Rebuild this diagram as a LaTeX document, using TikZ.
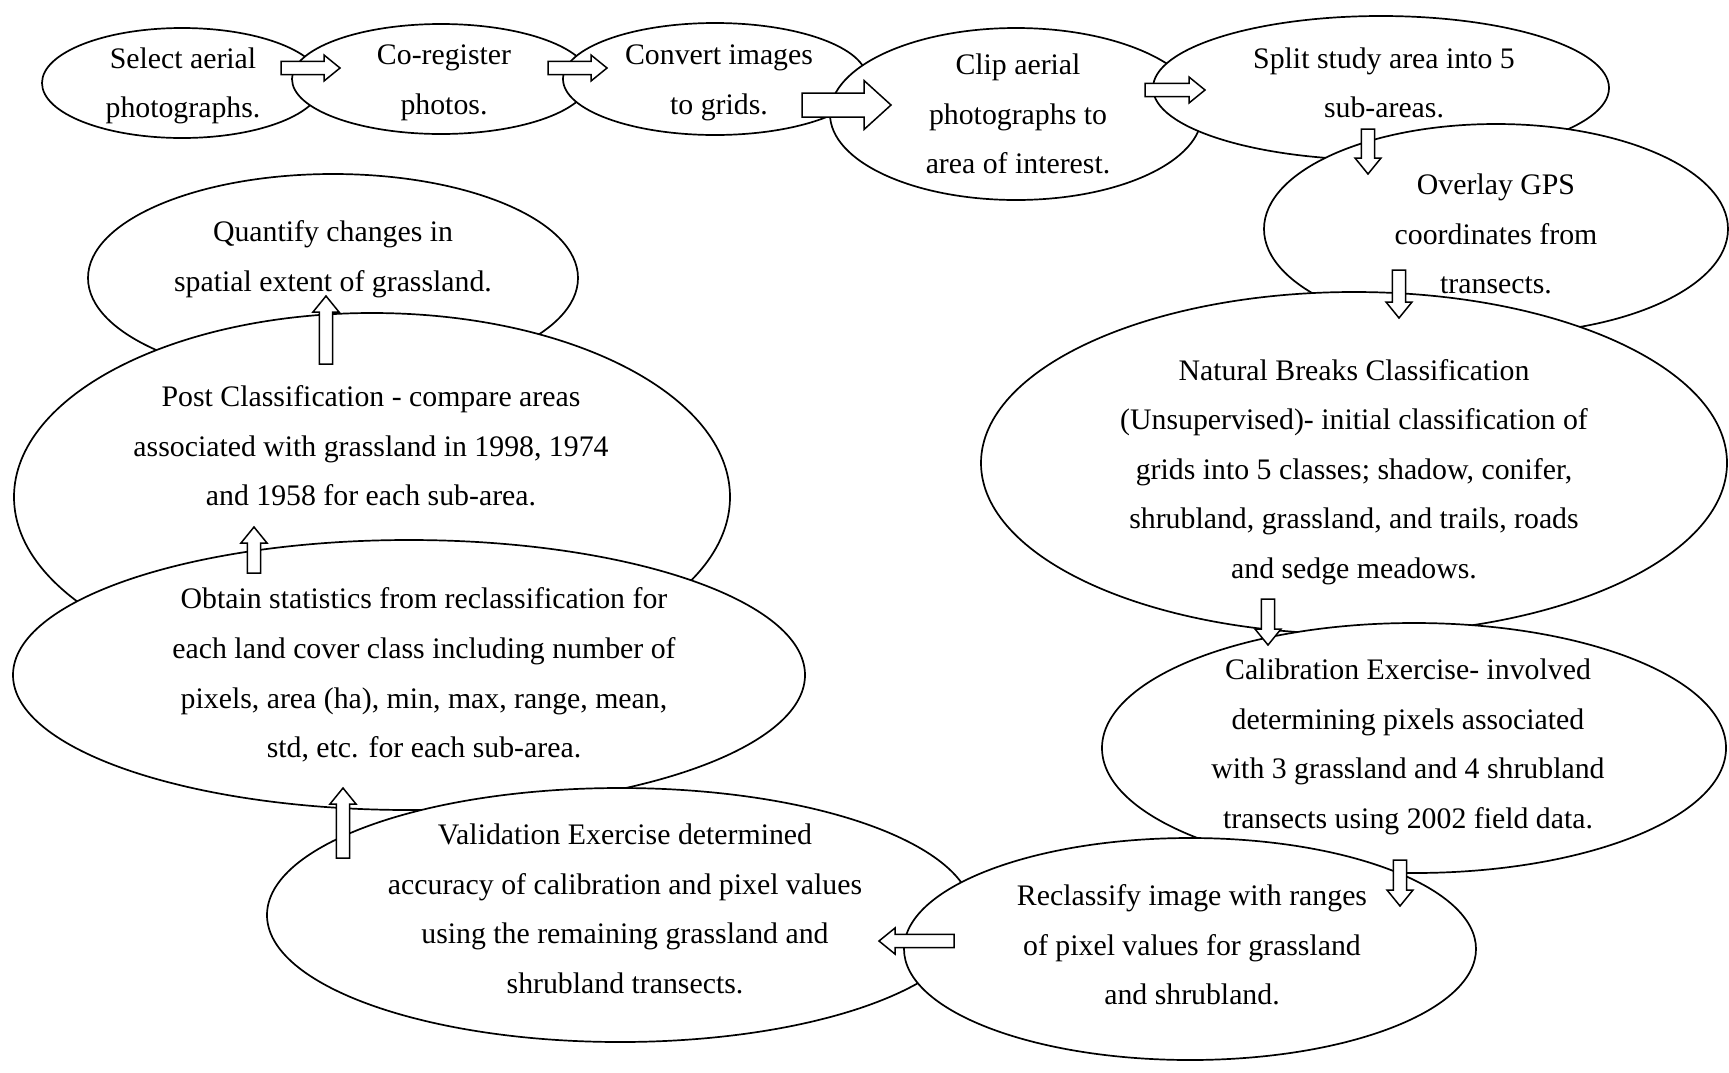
\documentclass[tikz,border=0pt]{standalone}
\usepackage{fontspec}
\setmainfont{Liberation Serif}
\usetikzlibrary{shapes.geometric,calc}
\tikzset{
  stage/.style={ellipse, draw=black, fill=white, line width=1.7pt, inner sep=0pt},
  txt/.style={align=center, inner sep=0pt, font=\fontsize{29.8}{49.6}\selectfont},
  barrowline/.style={draw=black, fill=white, line width=1.5pt, line join=miter}
}
\newcommand{\blockarr}[5]{%
  \coordinate (hb) at ($(#2)!#5!(#1)$);
  \draw[barrowline] ($(#1)!#3!90:(#2)$) -- ($(hb)!#3!90:(#2)$) -- ($(hb)!#4!90:(#2)$)
    -- (#2) -- ($(hb)!#4!-90:(#2)$) -- ($(hb)!#3!-90:(#2)$) -- ($(#1)!#3!-90:(#2)$) -- cycle;}
\begin{document}
\begin{tikzpicture}[x=1pt,y=-1pt]
\useasboundingbox (0,0) rectangle (1729,1072);
% top row
\node[stage, minimum width=280pt, minimum height=110pt] (e1) at (182,83) {};
\node[txt] (t1) at (183,86) {Select aerial\\photographs.};
\node[stage, minimum width=298pt, minimum height=110pt] (e2) at (441,79) {};
\node[txt] (t2) at (444,83) {Co-register\\photos.};
\node[stage, minimum width=304pt, minimum height=112pt] (e3) at (715,79) {};
\node[txt] (t3) at (719,83) {Convert images\\to grids.};
\node[stage, minimum width=372pt, minimum height=172pt] (e4) at (1016,114) {};
\node[txt] (t4) at (1018,114) {Clip aerial\\photographs to\\area of interest.};
\node[stage, minimum width=456pt, minimum height=144pt] (e5) at (1381,88) {};
\node[txt] (t5) at (1384,83) {Split study area into 5\\sub-areas.};
\node[stage, minimum width=464pt, minimum height=210pt] (e6) at (1496,229) {};
\node[txt] (t6) at (1496,234) {Overlay GPS\\coordinates from\\transects.};
\node[stage, minimum width=746pt, minimum height=342pt] (e7) at (1354,463) {};
\node[txt] (t7) at (1354,472) {Natural Breaks Classification\\(Unsupervised)- initial classification of\\grids into 5 classes; shadow, conifer,\\shrubland, grassland, and trails, roads\\and sedge meadows.};
\node[stage, minimum width=624pt, minimum height=250pt] (e8) at (1414,748) {};
\node[txt] (t8) at (1408,747) {Calibration Exercise- involved\\determining pixels associated\\with 3 grassland and 4 shrubland\\transects using 2002 field data.};
% left column
\node[stage, minimum width=490pt, minimum height=208pt] (e13) at (333,278) {};
\node[txt] (t13) at (333,259) {Quantify changes in\\spatial extent of grassland.};
\node[stage, minimum width=716pt, minimum height=368pt] (e12) at (372,497) {};
\node[txt] (t12) at (371,446) {Post Classification - compare areas\\associated with grassland in 1998, 1974\\and 1958 for each sub-area.};
\node[stage, minimum width=792pt, minimum height=270pt] (e11) at (409,675) {};
\node[txt] (t11) at (424,675) {Obtain statistics from reclassification for\\each land cover class including number of\\pixels, area (ha), min, max, range, mean,\\std, etc. for each sub-area.};
\node[stage, minimum width=706pt, minimum height=254pt] (e10) at (620,915) {};
\node[txt] (t10) at (625,909) {Validation Exercise determined\\accuracy of calibration and pixel values\\using the remaining grassland and\\shrubland transects.};
\node[stage, minimum width=572pt, minimum height=222pt] (e9) at (1190,949) {};
\node[txt] (t9) at (1192,945) {Reclassify image with ranges\\of pixel values for grassland\\and shrubland.};
% arrow end points
\coordinate (a1s) at (281,68);   \coordinate (a1e) at (340,68);
\coordinate (a2s) at (548,68);   \coordinate (a2e) at (607,68);
\coordinate (a3s) at (802,105);  \coordinate (a3e) at (891,105);
\coordinate (a4s) at (1145,90);  \coordinate (a4e) at (1205,90);
\coordinate (a5s) at (1368,129); \coordinate (a5e) at (1368,174);
\coordinate (a6s) at (1399,270); \coordinate (a6e) at (1399,318);
\coordinate (a7s) at (1268,599); \coordinate (a7e) at (1268,645);
\coordinate (a8s) at (1400,860); \coordinate (a8e) at (1400,906);
\coordinate (a9s) at (954,941);  \coordinate (a9e) at (879,941);
\coordinate (a10s) at (343,858); \coordinate (a10e) at (343,788);
\coordinate (a11s) at (254,573); \coordinate (a11e) at (254,527);
\coordinate (a12s) at (326,364); \coordinate (a12e) at (326,296);
\blockarr{a1s}{a1e}{6.6pt}{13pt}{16pt}
\blockarr{a2s}{a2e}{6.6pt}{13pt}{16pt}
\blockarr{a3s}{a3e}{12pt}{24.5pt}{27pt}
\blockarr{a4s}{a4e}{6.6pt}{13pt}{16pt}
\blockarr{a5s}{a5e}{6.6pt}{13pt}{16pt}
\blockarr{a6s}{a6e}{6.6pt}{13pt}{16pt}
\blockarr{a7s}{a7e}{6.6pt}{13pt}{16pt}
\blockarr{a8s}{a8e}{6.6pt}{13pt}{16pt}
\blockarr{a9s}{a9e}{6.6pt}{13pt}{16pt}
\blockarr{a10s}{a10e}{6.6pt}{13pt}{16pt}
\blockarr{a11s}{a11e}{6.6pt}{13pt}{16pt}
\blockarr{a12s}{a12e}{6.6pt}{13pt}{16pt}
\end{tikzpicture}
\end{document}
